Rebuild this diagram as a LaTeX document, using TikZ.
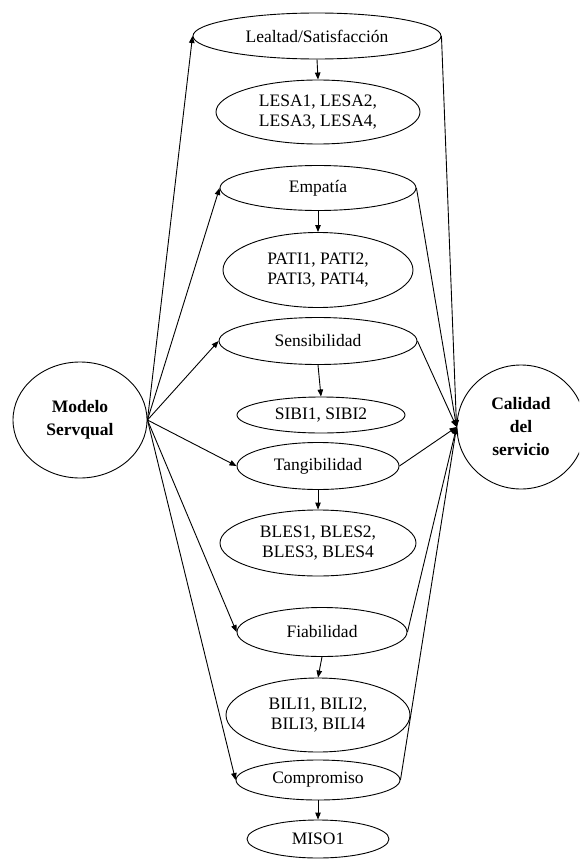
\documentclass[tikz,border=0pt]{standalone}
\usepackage{fontspec}
\setmainfont{Liberation Serif}
\usetikzlibrary{shapes.geometric,arrows.meta}
\begin{document}
\begin{tikzpicture}[x=1pt,y=-1pt,
 el/.style={draw,ellipse,inner sep=0pt,line width=0.9pt,align=center,font=\fontsize{17.5}{20}\selectfont},
 bl/.style={el,font=\fontsize{17.5}{23}\selectfont\bfseries},
 arr/.style={line width=0.9pt,-{Triangle[length=7pt,width=5.5pt]}}]
\useasboundingbox (0,0) rectangle (579,859);
\clip (0,0) rectangle (579,859);
\node[el,minimum width=248pt,minimum height=46pt] (leal) at (317,36) {Lealtad/Satisfacción};
\node[el,minimum width=204pt,minimum height=64pt] (lesa) at (318,112) {LESA1, LESA2,\\LESA3, LESA4,};
\node[el,minimum width=196pt,minimum height=45pt] (emp) at (318,188) {Empatía};
\node[el,minimum width=190pt,minimum height=75pt] (pati) at (318,270) {PATI1, PATI2,\\PATI3, PATI4,};
\node[el,minimum width=198pt,minimum height=47pt] (sens) at (318,341) {Sensibilidad};
\node[el,minimum width=168pt,minimum height=36pt] (sibi) at (321,415) {SIBI1, SIBI2};
\node[el,minimum width=162pt,minimum height=47pt] (tang) at (318,466) {Tangibilidad};
\node[el,minimum width=196pt,minimum height=66pt] (bles) at (318,543) {BLES1, BLES2,\\BLES3, BLES4};
\node[el,minimum width=170pt,minimum height=49pt] (fiab) at (322,632) {Fiabilidad};
\node[el,minimum width=184pt,minimum height=74pt] (bili) at (318,715) {BILI1, BILI2,\\BILI3, BILI4};
\node[el,minimum width=164pt,minimum height=40pt] (comp) at (318,780) {Compromiso};
\node[el,minimum width=142pt,minimum height=38pt] (miso) at (318,839) {MISO1};
\node[bl,minimum width=134pt,minimum height=116pt] (mod) at (80,420) {Modelo\\Servqual};
\node[bl,minimum width=128pt,minimum height=124pt] (cal) at (521,427) {Calidad\\del\\servicio};
\foreach \a/\b in {leal/lesa,emp/pati,sens/sibi,tang/bles,fiab/bili,comp/miso}
  \draw[arr] (\a.south) -- (\b.north);
\foreach \t in {leal,emp,sens,tang,fiab,comp}{
  \draw[arr] (mod.east) -- (\t.west);
  \draw[arr] (\t.east) -- (cal.west);
}
\end{tikzpicture}
\end{document}
